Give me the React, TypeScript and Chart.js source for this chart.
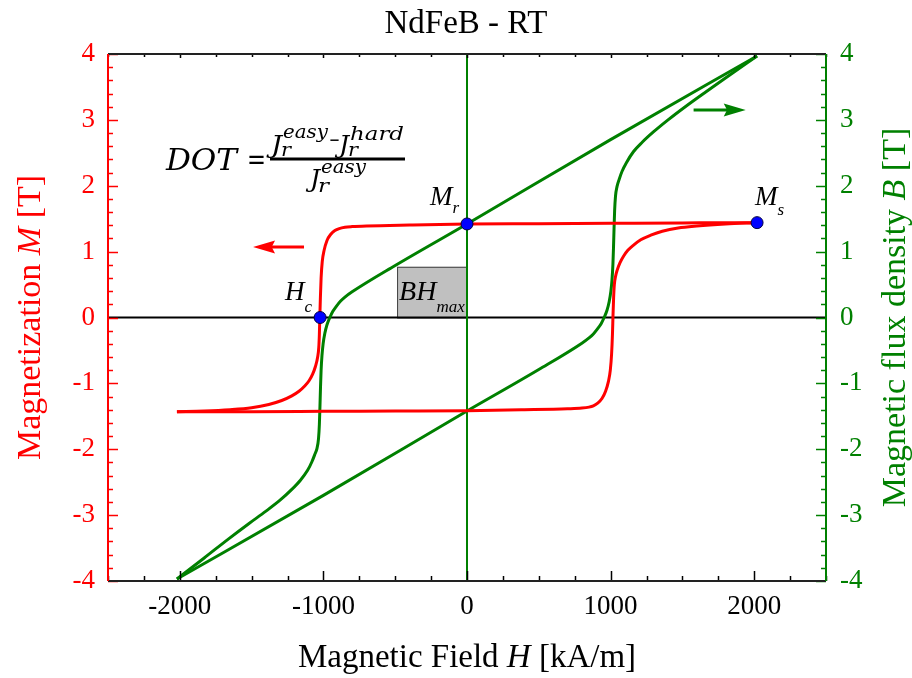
import React, { useEffect, useRef } from "react";
import { Chart, registerables } from "chart.js";

Chart.register(...registerables);

// ---------- data ----------
const X_TICKS = [-2000, -1000, 0, 1000, 2000];
const Y_TICKS = [-4, -3, -2, -1, 0, 1, 2, 3, 4];

// Magnetization, descending field branch (upper)
const H_DESC = [2020, 1800, 1500, 1000, 500, 0, -400, -700, -800, -850, -890, -920, -950, -975, -995, -1008, -1016, -1021, -1025, -1028, -1032, -1040, -1055, -1075, -1100, -1130, -1170, -1220, -1290, -1380, -1500, -1650, -1830, -2020];
const M_DESC = [1.44, 1.44, 1.435, 1.43, 1.425, 1.42, 1.405, 1.39, 1.38, 1.37, 1.35, 1.32, 1.26, 1.17, 1.02, 0.85, 0.6, 0.3, 0, -0.25, -0.45, -0.6, -0.74, -0.86, -0.96, -1.04, -1.12, -1.19, -1.26, -1.32, -1.37, -1.4, -1.42, -1.43];

// Magnetization, ascending field branch (lower)
const H_ASC = [-2020, -1800, -1500, -1000, -500, 0, 400, 700, 800, 850, 880, 910, 940, 965, 985, 998, 1007, 1013, 1017, 1021, 1026, 1034, 1046, 1065, 1090, 1120, 1160, 1210, 1280, 1360, 1470, 1600, 1800, 2020];
const M_ASC = [-1.43, -1.43, -1.43, -1.425, -1.42, -1.415, -1.4, -1.385, -1.375, -1.36, -1.34, -1.3, -1.23, -1.12, -0.97, -0.8, -0.55, -0.25, 0.05, 0.3, 0.5, 0.62, 0.72, 0.83, 0.93, 1.02, 1.1, 1.18, 1.25, 1.31, 1.36, 1.39, 1.42, 1.44];

// Flux density, descending branch
const HB_DESC = [2020, 1000, 0, -500, -800, -850, -880, -910, -935, -955, -975, -990, -1002, -1010, -1016, -1020, -1024, -1028, -1034, -1045, -1060, -1080, -1110, -1160, -1220, -1300, -1400, -1520, -1660, -1830, -2020];
const B_DESC = [3.97, 2.7, 1.42, 0.79, 0.39, 0.31, 0.25, 0.17, 0.09, 0.0, -0.11, -0.24, -0.4, -0.58, -0.8, -1.05, -1.35, -1.62, -1.84, -1.99, -2.08, -2.19, -2.32, -2.47, -2.61, -2.77, -2.94, -3.13, -3.36, -3.65, -3.97];

// Flux density, ascending branch
const HB_ASC = [-2020, -1000, 0, 500, 800, 850, 880, 910, 935, 955, 975, 990, 1002, 1010, 1016, 1020, 1024, 1028, 1034, 1045, 1060, 1080, 1110, 1160, 1220, 1300, 1400, 1520, 1660, 1830, 2020];
const B_ASC = [-3.97, -2.7, -1.42, -0.79, -0.39, -0.31, -0.25, -0.17, -0.09, 0.0, 0.11, 0.24, 0.4, 0.58, 0.8, 1.05, 1.35, 1.62, 1.84, 1.99, 2.1, 2.22, 2.35, 2.52, 2.66, 2.82, 3.0, 3.2, 3.42, 3.68, 3.97];

// Key points: Hc, Mr, Ms
const KEY_H = [-1023, 0, 2020];
const KEY_M = [0, 1.42, 1.44];

// BH max box corners (H, B)
const BH_BOX_H = [-487, 0];
const BH_BOX_B = [0, 0.77];

// Arrows (H from, H to, value)
const RED_ARROW_H = [-1135, -1490];
const RED_ARROW_M = 1.07;
const GREEN_ARROW_H = [1578, 1941];
const GREEN_ARROW_B = 3.15;

// ---------- styles ----------
const RED = "#ff0000";
const GREEN = "#008000";
const SERIF = '"Liberation Serif", "Times New Roman", serif';
const MATH = '"DejaVu Serif", serif';

const pts = (xs: number[], ys: number[]) => xs.map((x, i) => ({ x, y: ys[i] }));

type Part = { t: string; size: number; italic?: boolean; dy?: number };

function drawParts(ctx: CanvasRenderingContext2D, parts: Part[], x: number, y: number, align: "left" | "center") {
  let total = 0;
  const ws: number[] = [];
  for (const p of parts) {
    ctx.font = `${p.italic ? "italic " : ""}${p.size}px ${SERIF}`;
    const w = ctx.measureText(p.t).width;
    ws.push(w);
    total += w;
  }
  let cx = align === "center" ? x - total / 2 : x;
  ctx.textAlign = "left";
  ctx.textBaseline = "alphabetic";
  parts.forEach((p, i) => {
    ctx.font = `${p.italic ? "italic " : ""}${p.size}px ${SERIF}`;
    ctx.fillText(p.t, cx, y + (p.dy || 0));
    cx += ws[i];
  });
}

function fitText(ctx: CanvasRenderingContext2D, text: string, x: number, y: number, w: number, font: string) {
  ctx.save();
  ctx.font = font;
  ctx.textAlign = "left";
  ctx.textBaseline = "alphabetic";
  const m = ctx.measureText(text).width;
  ctx.translate(x, y);
  ctx.scale(w / m, 1);
  ctx.fillText(text, 0, 0);
  ctx.restore();
}

function arrow(ctx: CanvasRenderingContext2D, x0: number, x1: number, y: number, color: string) {
  const dir = Math.sign(x1 - x0);
  const headL = 22;
  const headW = 6.5;
  ctx.save();
  ctx.strokeStyle = color;
  ctx.fillStyle = color;
  ctx.lineWidth = 3;
  ctx.beginPath();
  ctx.moveTo(x0, y);
  ctx.lineTo(x1 - dir * headL * 0.8, y);
  ctx.stroke();
  ctx.beginPath();
  ctx.moveTo(x1, y);
  ctx.lineTo(x1 - dir * headL, y - headW);
  ctx.lineTo(x1 - dir * headL * 0.85, y);
  ctx.lineTo(x1 - dir * headL, y + headW);
  ctx.closePath();
  ctx.fill();
  ctx.restore();
}

const decorPlugin = {
  id: "decor",
  beforeDatasetsDraw(chart: any) {
    const ctx: CanvasRenderingContext2D = chart.ctx;
    const { left, right, top, bottom } = chart.chartArea;
    const xs = chart.scales.x;
    const y2 = chart.scales.y2;
    const y = chart.scales.y;
    ctx.save();
    // BH box
    const bx0 = xs.getPixelForValue(BH_BOX_H[0]);
    const bx1 = xs.getPixelForValue(BH_BOX_H[1]);
    const by0 = y2.getPixelForValue(BH_BOX_B[0]);
    const by1 = y2.getPixelForValue(BH_BOX_B[1]);
    ctx.fillStyle = "#c0c0c0";
    ctx.fillRect(bx0, by1, bx1 - bx0, by0 - by1);
    ctx.strokeStyle = "#404040";
    ctx.lineWidth = 1;
    ctx.strokeRect(bx0 + 0.5, by1 + 0.5, bx1 - bx0 - 1, by0 - by1);
    // zero lines
    ctx.strokeStyle = "#000";
    ctx.lineWidth = 2;
    const zy = y.getPixelForValue(0);
    ctx.beginPath();
    ctx.moveTo(left, zy);
    ctx.lineTo(right, zy);
    ctx.stroke();
    ctx.strokeStyle = GREEN;
    const zx = xs.getPixelForValue(0);
    ctx.beginPath();
    ctx.moveTo(zx, top);
    ctx.lineTo(zx, bottom);
    ctx.stroke();
    ctx.restore();
  },
  afterDraw(chart: any) {
    const ctx: CanvasRenderingContext2D = chart.ctx;
    const { left, right, top, bottom } = chart.chartArea;
    const xs = chart.scales.x;
    const y = chart.scales.y;
    const y2 = chart.scales.y2;
    ctx.save();
    // ticks
    ctx.lineWidth = 1.5;
    ctx.strokeStyle = "#000";
    for (let v = -2500; v <= 2500; v += 250) {
      const px = Math.round(xs.getPixelForValue(v)) + 0.5;
      const major = v % 1000 === 0;
      ctx.beginPath();
      ctx.moveTo(px, bottom);
      ctx.lineTo(px, bottom - (major ? 10 : 5));
      ctx.moveTo(px, top);
      ctx.lineTo(px, top + (major ? 4 : 3));
      ctx.stroke();
    }
    for (let k = -20; k <= 20; k++) {
      const v = k / 5;
      const major = k % 5 === 0;
      const py = Math.round(y.getPixelForValue(v)) + 0.5;
      ctx.strokeStyle = RED;
      ctx.beginPath();
      ctx.moveTo(left, py);
      ctx.lineTo(left + (major ? 10 : 5), py);
      ctx.stroke();
      const py2 = Math.round(y2.getPixelForValue(v)) + 0.5;
      ctx.strokeStyle = GREEN;
      ctx.beginPath();
      ctx.moveTo(right, py2);
      ctx.lineTo(right - (major ? 10 : 5), py2);
      ctx.stroke();
    }
    // borders
    ctx.lineWidth = 2;
    ctx.strokeStyle = "#222";
    ctx.beginPath();
    ctx.moveTo(left, top);
    ctx.lineTo(right, top);
    ctx.moveTo(left, bottom);
    ctx.lineTo(right, bottom);
    ctx.stroke();
    ctx.strokeStyle = RED;
    ctx.beginPath();
    ctx.moveTo(left, top);
    ctx.lineTo(left, bottom);
    ctx.stroke();
    ctx.strokeStyle = GREEN;
    ctx.beginPath();
    ctx.moveTo(right, top);
    ctx.lineTo(right, bottom);
    ctx.stroke();

    // arrows
    arrow(ctx, xs.getPixelForValue(RED_ARROW_H[0]), xs.getPixelForValue(RED_ARROW_H[1]), y.getPixelForValue(RED_ARROW_M), RED);
    arrow(ctx, xs.getPixelForValue(GREEN_ARROW_H[0]), xs.getPixelForValue(GREEN_ARROW_H[1]), y2.getPixelForValue(GREEN_ARROW_B), GREEN);

    // title
    ctx.fillStyle = "#000";
    drawParts(ctx, [{ t: "NdFeB - RT", size: 33 }], (left + right) / 2 - 1, 33, "center");
    // x title
    drawParts(ctx, [{ t: "Magnetic Field ", size: 33 }, { t: "H", size: 33, italic: true }, { t: " [kA/m]", size: 33 }], (left + right) / 2, 667, "center");
    // left title
    ctx.save();
    ctx.fillStyle = RED;
    ctx.translate(40, (top + bottom) / 2);
    ctx.rotate(-Math.PI / 2);
    drawParts(ctx, [{ t: "Magnetization ", size: 34 }, { t: "M", size: 34, italic: true }, { t: " [T]", size: 34 }], 0, 0, "center");
    ctx.restore();
    // right title
    ctx.save();
    ctx.fillStyle = GREEN;
    ctx.translate(905, (top + bottom) / 2);
    ctx.rotate(-Math.PI / 2);
    drawParts(ctx, [{ t: "Magnetic flux density ", size: 34 }, { t: "B", size: 34, italic: true }, { t: " [T]", size: 34 }], 0, 0, "center");
    ctx.restore();

    // point labels
    ctx.fillStyle = "#000";
    const hcX = xs.getPixelForValue(KEY_H[0]), hcY = y.getPixelForValue(KEY_M[0]);
    const mrX = xs.getPixelForValue(KEY_H[1]), mrY = y.getPixelForValue(KEY_M[1]);
    const msX = xs.getPixelForValue(KEY_H[2]), msY = y.getPixelForValue(KEY_M[2]);
    drawParts(ctx, [{ t: "H", size: 27, italic: true }, { t: "c", size: 17, italic: true, dy: 12 }], hcX - 35, hcY - 18, "left");
    drawParts(ctx, [{ t: "M", size: 27, italic: true }, { t: "r", size: 17, italic: true, dy: 8 }], mrX - 37, mrY - 19, "left");
    drawParts(ctx, [{ t: "M", size: 27, italic: true }, { t: "s", size: 17, italic: true, dy: 10 }], msX - 2, msY - 18, "left");
    const bx0 = xs.getPixelForValue(BH_BOX_H[0]);
    const by1 = y2.getPixelForValue(BH_BOX_B[1]);
    drawParts(ctx, [{ t: "BH", size: 28, italic: true }, { t: "max", size: 17, italic: true, dy: 12 }], bx0 + 2, by1 + 33, "left");

    // formula
    const it = (s: number) => `italic ${s}px ${MATH}`;
    const up = (s: number) => `${s}px ${MATH}`;
    fitText(ctx, "DOT", 166, 170, 71, it(30));
    fitText(ctx, "=", 247, 169, 19, up(30));
    ctx.strokeStyle = "#000";
    ctx.lineWidth = 3;
    ctx.beginPath();
    ctx.moveTo(270, 159);
    ctx.lineTo(405, 159);
    ctx.stroke();
    fitText(ctx, "J", 271, 153, 11, it(24));
    fitText(ctx, "easy", 283, 138, 45, it(19));
    fitText(ctx, "r", 281, 156, 10, it(19));
    fitText(ctx, "\u2212", 329, 146, 11, up(19));
    fitText(ctx, "J", 339, 153, 10, it(24));
    fitText(ctx, "hard", 350, 140, 54, it(19));
    fitText(ctx, "r", 348, 156, 10, it(19));
    fitText(ctx, "J", 310, 187, 10, it(24));
    fitText(ctx, "easy", 321, 173, 45, it(19));
    fitText(ctx, "r", 318, 192, 11, it(19));
    ctx.restore();
  },
};

export default function App() {
  const ref = useRef<HTMLCanvasElement | null>(null);
  useEffect(() => {
    if (!ref.current) return;
    const line = (xs: number[], ys: number[], color: string, axis: string) => ({
      data: pts(xs, ys),
      borderColor: color,
      backgroundColor: color,
      borderWidth: 3,
      pointRadius: 0,
      showLine: true,
      fill: false,
      cubicInterpolationMode: "monotone",
      yAxisID: axis,
      order: 2,
    });
    const chart = new Chart(ref.current, {
      type: "scatter",
      data: {
        datasets: [
          {
            data: pts(KEY_H, KEY_M),
            yAxisID: "y",
            pointRadius: 6,
            pointBackgroundColor: "#0000ff",
            pointBorderColor: "#000040",
            pointBorderWidth: 1,
            showLine: false,
            order: 0,
          } as any,
          line(HB_DESC, B_DESC, GREEN, "y2"),
          line(HB_ASC, B_ASC, GREEN, "y2"),
          { ...line(H_DESC, M_DESC, RED, "y"), order: 1 },
          { ...line(H_ASC, M_ASC, RED, "y"), order: 1 },
        ],
      },
      options: {
        animation: false,
        responsive: false,
        events: [],
        layout: { padding: { top: 54, left: 0, right: 0, bottom: 0 } },
        plugins: { legend: { display: false }, tooltip: { enabled: false }, title: { display: false } },
        scales: {
          x: {
            type: "linear",
            position: "bottom",
            min: -2500,
            max: 2500,
            afterBuildTicks: (s: any) => {
              s.ticks = X_TICKS.map((v) => ({ value: v }));
            },
            afterFit: (s: any) => {
              s.height = 97;
            },
            grid: { display: false, drawTicks: false },
            border: { display: false },
            ticks: { color: "#000", font: { family: SERIF, size: 27 }, padding: 10, maxRotation: 0, callback: (v: any) => String(v) },
          },
          y: {
            type: "linear",
            position: "left",
            min: -4,
            max: 4,
            afterBuildTicks: (s: any) => {
              s.ticks = Y_TICKS.map((v) => ({ value: v }));
            },
            afterFit: (s: any) => {
              s.width = 108;
            },
            grid: { display: false, drawTicks: false },
            border: { display: false },
            ticks: { color: RED, font: { family: SERIF, size: 27 }, padding: 13, callback: (v: any) => String(v) },
          },
          y2: {
            type: "linear",
            position: "right",
            min: -4,
            max: 4,
            afterBuildTicks: (s: any) => {
              s.ticks = Y_TICKS.map((v) => ({ value: v }));
            },
            afterFit: (s: any) => {
              s.width = 86;
            },
            grid: { display: false, drawTicks: false },
            border: { display: false },
            ticks: { color: GREEN, font: { family: SERIF, size: 27 }, padding: 14, callback: (v: any) => String(v) },
          },
        },
      },
      plugins: [decorPlugin],
    });
    return () => chart.destroy();
  }, []);
  return (
    <div style={{ position: "absolute", left: 0, top: 0, width: 912, height: 678, background: "#fff" }}>
      <canvas ref={ref} width={912} height={678} style={{ width: 912, height: 678 }} />
    </div>
  );
}
